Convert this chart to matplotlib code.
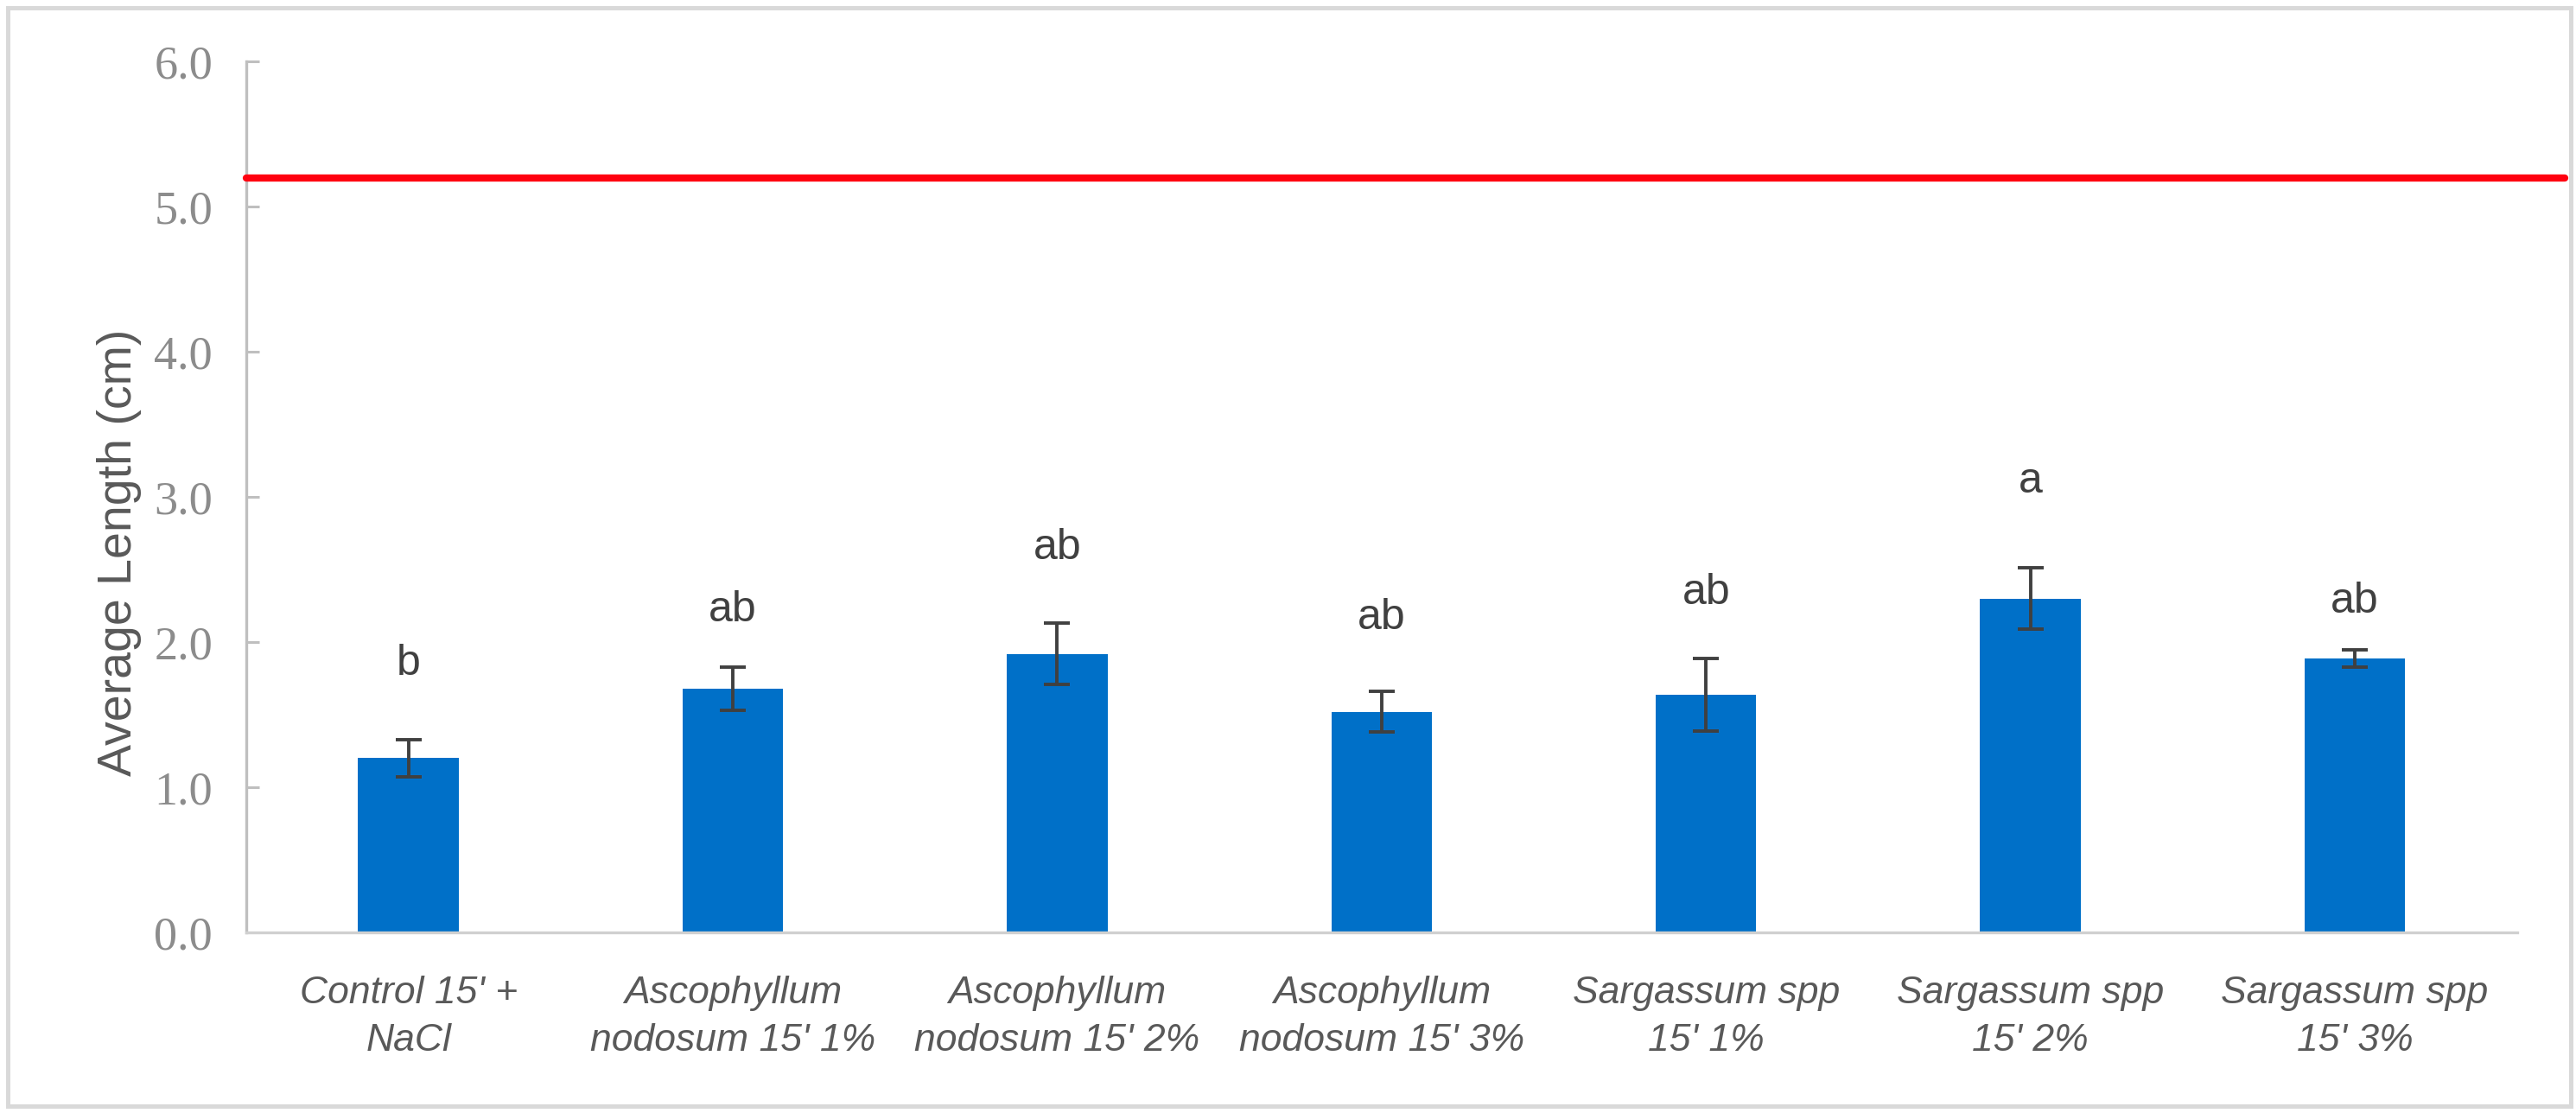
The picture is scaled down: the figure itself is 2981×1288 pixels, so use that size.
import matplotlib.pyplot as plt
from matplotlib import font_manager
from matplotlib.patches import Rectangle
import numpy as np

categories = ["Control 15' +\nNaCl",
              "Ascophyllum\nnodosum 15' 1%",
              "Ascophyllum\nnodosum 15' 2%",
              "Ascophyllum\nnodosum 15' 3%",
              "Sargassum spp\n15' 1%",
              "Sargassum spp\n15' 2%",
              "Sargassum spp\n15' 3%"]
means = [1.20, 1.68, 1.92, 1.52, 1.64, 2.30, 1.89]
errors = [0.13, 0.15, 0.21, 0.14, 0.25, 0.21, 0.06]
letters = ['b', 'ab', 'ab', 'ab', 'ab', 'a', 'ab']
letter_y = [1.85, 2.22, 2.65, 2.17, 2.34, 3.11, 2.28]
reference_line = 5.2

# font picks (a narrow sans would be closest to the original)
installed = {f.name for f in font_manager.fontManager.ttflist}
narrow = 'Liberation Sans Narrow' if 'Liberation Sans Narrow' in installed else 'Liberation Sans'
serif = 'Liberation Serif'

fig = plt.figure(figsize=(14.905, 6.44), dpi=200)
ax = fig.add_axes([0.0956, 0.1623, 0.8815, 0.7822])

x = np.arange(len(categories))
ax.bar(x, means, width=0.31, color='#0070C8', zorder=2)
ax.errorbar(x, means, yerr=errors, fmt='none', ecolor='#404040',
            elinewidth=1.4, capsize=5.5, capthick=1.4, zorder=3)

for xi, yi, t in zip(x, letter_y, letters):
    ax.text(xi, yi, t, ha='center', va='center', fontsize=18,
            family=narrow, color='#404040')

ax.axhline(reference_line, xmin=0, xmax=1.021, color='#ff0010',
           linewidth=3.0, solid_capstyle='round', clip_on=False, zorder=4)

ax.set_xlim(-0.5, 6.5)
ax.set_ylim(0, 6)
ax.set_yticks(np.arange(0, 6.1, 1.0))
ax.set_yticklabels([f'{v:.1f}' for v in np.arange(0, 6.1, 1.0)],
                   family=serif, fontsize=19.5, color='#8c8c8c')
ax.set_xticks(x)
ax.set_xticklabels(categories, family=narrow, style='italic',
                   fontsize=16, color='#595959', linespacing=1.45)
ax.tick_params(axis='x', length=0, pad=18)
ax.tick_params(axis='y', direction='in', length=5.5, width=1.1,
               color='#bfbfbf', pad=14)
ax.set_ylabel('Average Length (cm)', family=narrow, fontsize=20,
              color='#595959')
ax.yaxis.set_label_coords(-0.046, 0.436)

for s in ['top', 'right']:
    ax.spines[s].set_visible(False)
ax.spines['left'].set_color('#bfbfbf')
ax.spines['left'].set_linewidth(1.2)
ax.spines['bottom'].set_color('#d0d0d0')
ax.spines['bottom'].set_linewidth(1.2)

# light frame round the whole chart
fig.patches.append(Rectangle((0.003, 0.006), 0.995, 0.987, transform=fig.transFigure,
                             fill=False, edgecolor='#d9d9d9', linewidth=1.8))

fig.savefig('out.png', dpi=200, facecolor='white')
